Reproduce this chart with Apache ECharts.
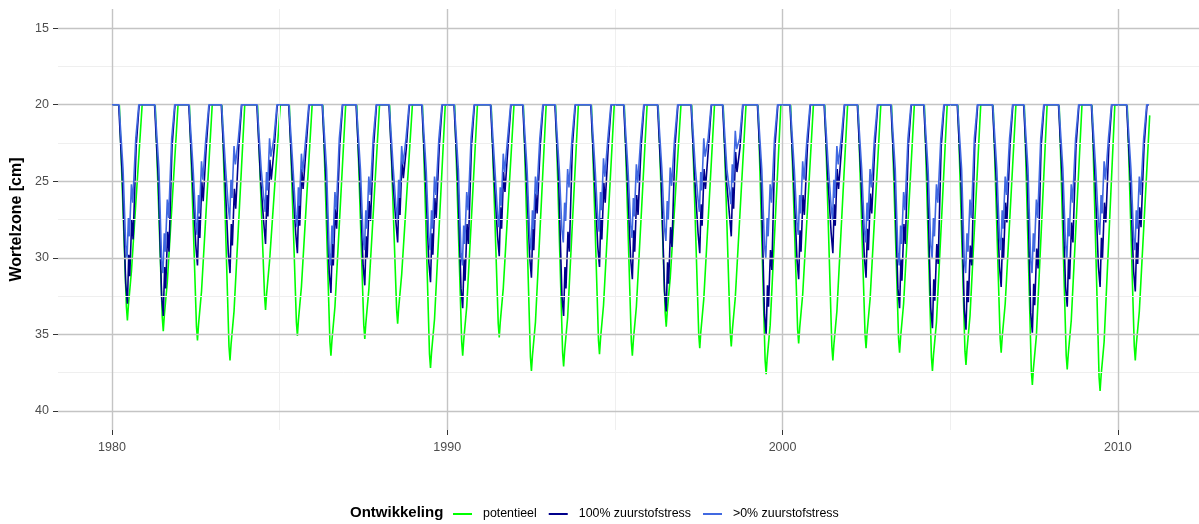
<!DOCTYPE html>
<html>
<head>
<meta charset="utf-8">
<script src="https://cdn.jsdelivr.net/npm/echarts@6/dist/echarts.min.js"></script>
<style>
  html, body { margin: 0; padding: 0; background: #fff; }
  #chart { width: 1199px; height: 524px; }
</style>
</head>
<body>
<div id="chart"></div>
<script>
// root zone depth [cm] per series, as [decimal year, depth]
const potentieel = [
  [1980.00,20],
  [1980.22,20],[1980.43,33.2],[1980.46,34.1],[1980.49,33.1],[1980.58,30.9],[1980.90,20],
  [1981.29,20],[1981.50,33.9],[1981.53,34.8],[1981.56,33.8],[1981.65,31.6],[1981.97,20],
  [1982.31,20],[1982.52,34.5],[1982.55,35.4],[1982.58,34.4],[1982.67,32.2],[1982.99,20],
  [1983.28,20],[1983.49,35.8],[1983.52,36.7],[1983.55,35.7],[1983.64,33.5],[1983.96,20],
  [1984.34,20],[1984.55,32.5],[1984.58,33.4],[1984.61,32.4],[1984.70,30.2],[1985.02,20],
  [1985.29,20],[1985.50,34.2],[1985.53,35.1],[1985.56,34.1],[1985.65,31.9],[1985.97,20],
  [1986.29,20],[1986.50,35.5],[1986.53,36.4],[1986.56,35.4],[1986.65,33.2],[1986.97,20],
  [1987.30,20],[1987.51,34.4],[1987.54,35.3],[1987.57,34.3],[1987.66,32.1],[1987.98,20],
  [1988.28,20],[1988.49,33.4],[1988.52,34.3],[1988.55,33.3],[1988.64,31.1],[1988.96,20],
  [1989.26,20],[1989.47,36.3],[1989.50,37.2],[1989.53,36.2],[1989.62,34.0],[1989.94,20],
  [1990.22,20],[1990.43,35.5],[1990.46,36.4],[1990.49,35.4],[1990.58,33.2],[1990.90,20],
  [1991.31,20],[1991.52,34.3],[1991.55,35.2],[1991.58,34.2],[1991.67,32.0],[1991.99,20],
  [1992.27,20],[1992.48,36.5],[1992.51,37.4],[1992.54,36.4],[1992.63,34.2],[1992.95,20],
  [1993.23,20],[1993.44,36.2],[1993.47,37.1],[1993.50,36.1],[1993.59,33.9],[1993.91,20],
  [1994.30,20],[1994.51,35.4],[1994.54,36.3],[1994.57,35.3],[1994.66,33.1],[1994.98,20],
  [1995.28,20],[1995.49,35.5],[1995.52,36.4],[1995.55,35.4],[1995.64,33.2],[1995.96,20],
  [1996.29,20],[1996.50,33.6],[1996.53,34.5],[1996.56,33.5],[1996.65,31.3],[1996.97,20],
  [1997.29,20],[1997.50,35.0],[1997.53,35.9],[1997.56,34.9],[1997.65,32.7],[1997.97,20],
  [1998.23,20],[1998.44,34.9],[1998.47,35.8],[1998.50,34.8],[1998.59,32.6],[1998.91,20],
  [1999.27,20],[1999.48,36.7],[1999.51,37.6],[1999.54,36.6],[1999.63,34.4],[1999.95,20],
  [2000.24,20],[2000.45,34.7],[2000.48,35.6],[2000.51,34.6],[2000.60,32.4],[2000.92,20],
  [2001.26,20],[2001.47,35.8],[2001.50,36.7],[2001.53,35.7],[2001.62,33.5],[2001.94,20],
  [2002.25,20],[2002.46,35.0],[2002.49,35.9],[2002.52,34.9],[2002.61,32.7],[2002.93,20],
  [2003.25,20],[2003.46,35.3],[2003.49,36.2],[2003.52,35.2],[2003.61,33.0],[2003.93,20],
  [2004.23,20],[2004.44,36.5],[2004.47,37.4],[2004.50,36.4],[2004.59,34.2],[2004.91,20],
  [2005.23,20],[2005.44,36.1],[2005.47,37.0],[2005.50,36.0],[2005.59,33.8],[2005.91,20],
  [2006.28,20],[2006.49,35.3],[2006.52,36.2],[2006.55,35.2],[2006.64,33.0],[2006.96,20],
  [2007.21,20],[2007.42,37.4],[2007.45,38.3],[2007.48,37.3],[2007.57,35.1],[2007.89,20],
  [2008.25,20],[2008.46,36.4],[2008.49,37.3],[2008.52,36.3],[2008.61,34.1],[2008.93,20],
  [2009.23,20],[2009.44,37.8],[2009.47,38.7],[2009.50,37.7],[2009.59,35.5],[2009.91,20],
  [2010.28,20],[2010.49,35.8],[2010.52,36.7],[2010.55,35.7],[2010.64,33.5],[2010.95,20.7]
];

const stress100 = [
  [1980.00,20],
  [1980.20,20],[1980.31,24.8],[1980.41,31.7],[1980.46,33.0],[1980.50,29.8],[1980.53,31.2],[1980.59,27.5],[1980.63,28.8],[1980.72,22.8],[1980.81,20],
  [1981.27,20],[1981.38,24.8],[1981.48,32.5],[1981.53,33.8],[1981.57,30.6],[1981.60,32.0],[1981.66,28.3],[1981.70,29.6],[1981.79,22.8],[1981.88,20],
  [1982.29,20],[1982.40,24.8],[1982.50,29.2],[1982.55,30.5],[1982.59,27.3],[1982.62,28.7],[1982.68,25.0],[1982.72,26.3],[1982.81,22.8],[1982.90,20],
  [1983.26,20],[1983.37,24.8],[1983.47,29.7],[1983.52,31.0],[1983.56,27.8],[1983.59,29.2],[1983.65,25.5],[1983.69,26.8],[1983.78,22.8],[1983.87,20],
  [1984.32,20],[1984.43,24.8],[1984.53,27.8],[1984.58,29.1],[1984.62,25.9],[1984.65,27.3],[1984.71,23.6],[1984.75,24.9],[1984.84,22.8],[1984.93,20],
  [1985.27,20],[1985.38,24.8],[1985.48,28.4],[1985.53,29.7],[1985.57,26.5],[1985.60,27.9],[1985.66,24.2],[1985.70,25.5],[1985.79,22.8],[1985.88,20],
  [1986.27,20],[1986.38,24.8],[1986.48,31.0],[1986.53,32.3],[1986.57,29.1],[1986.60,30.5],[1986.66,26.8],[1986.70,28.1],[1986.79,22.8],[1986.88,20],
  [1987.28,20],[1987.39,24.8],[1987.49,30.5],[1987.54,31.8],[1987.58,28.6],[1987.61,30.0],[1987.67,26.3],[1987.71,27.6],[1987.80,22.8],[1987.89,20],
  [1988.26,20],[1988.37,24.8],[1988.47,27.7],[1988.52,29.0],[1988.56,25.8],[1988.59,27.2],[1988.65,23.5],[1988.69,24.8],[1988.78,22.8],[1988.87,20],
  [1989.24,20],[1989.35,24.8],[1989.45,30.3],[1989.50,31.6],[1989.54,28.4],[1989.57,29.8],[1989.63,26.1],[1989.67,27.4],[1989.76,22.8],[1989.85,20],
  [1990.20,20],[1990.31,24.8],[1990.41,32.0],[1990.46,33.3],[1990.50,30.1],[1990.53,31.5],[1990.59,27.8],[1990.63,29.1],[1990.72,22.8],[1990.81,20],
  [1991.29,20],[1991.40,24.8],[1991.50,28.6],[1991.55,29.9],[1991.59,26.7],[1991.62,28.1],[1991.68,24.4],[1991.72,25.7],[1991.81,22.8],[1991.90,20],
  [1992.25,20],[1992.36,24.8],[1992.46,30.0],[1992.51,31.3],[1992.55,28.1],[1992.58,29.5],[1992.64,25.8],[1992.68,27.1],[1992.77,22.8],[1992.86,20],
  [1993.21,20],[1993.32,24.8],[1993.42,32.5],[1993.47,33.8],[1993.51,30.6],[1993.54,32.0],[1993.60,28.3],[1993.64,29.6],[1993.73,22.8],[1993.82,20],
  [1994.28,20],[1994.39,24.8],[1994.49,29.3],[1994.54,30.6],[1994.58,27.4],[1994.61,28.8],[1994.67,25.1],[1994.71,26.4],[1994.80,22.8],[1994.89,20],
  [1995.26,20],[1995.37,24.8],[1995.47,30.1],[1995.52,31.4],[1995.56,28.2],[1995.59,29.6],[1995.65,25.9],[1995.69,27.2],[1995.78,22.8],[1995.87,20],
  [1996.27,20],[1996.38,24.8],[1996.48,32.2],[1996.53,33.5],[1996.57,30.3],[1996.60,31.7],[1996.66,28.0],[1996.70,29.3],[1996.79,22.8],[1996.88,20],
  [1997.27,20],[1997.38,24.8],[1997.48,28.4],[1997.53,29.7],[1997.57,26.5],[1997.60,27.9],[1997.66,24.2],[1997.70,25.5],[1997.79,22.8],[1997.88,20],
  [1998.21,20],[1998.32,24.8],[1998.42,27.3],[1998.47,28.6],[1998.51,25.4],[1998.54,26.8],[1998.60,23.1],[1998.64,24.4],[1998.73,22.8],[1998.82,20],
  [1999.25,20],[1999.36,24.8],[1999.46,33.7],[1999.51,35.0],[1999.55,31.8],[1999.58,33.2],[1999.64,29.5],[1999.68,30.8],[1999.77,22.8],[1999.86,20],
  [2000.22,20],[2000.33,24.8],[2000.43,30.1],[2000.48,31.4],[2000.52,28.2],[2000.55,29.6],[2000.61,25.9],[2000.65,27.2],[2000.74,22.8],[2000.83,20],
  [2001.24,20],[2001.35,24.8],[2001.45,28.4],[2001.50,29.7],[2001.54,26.5],[2001.57,27.9],[2001.63,24.2],[2001.67,25.5],[2001.76,22.8],[2001.85,20],
  [2002.23,20],[2002.34,24.8],[2002.44,30.0],[2002.49,31.3],[2002.53,28.1],[2002.56,29.5],[2002.62,25.8],[2002.66,27.1],[2002.75,22.8],[2002.84,20],
  [2003.23,20],[2003.34,24.8],[2003.44,32.0],[2003.49,33.3],[2003.53,30.1],[2003.56,31.5],[2003.62,27.8],[2003.66,29.1],[2003.75,22.8],[2003.84,20],
  [2004.21,20],[2004.32,24.8],[2004.42,33.3],[2004.47,34.6],[2004.51,31.4],[2004.54,32.8],[2004.60,29.1],[2004.64,30.4],[2004.73,22.8],[2004.82,20],
  [2005.21,20],[2005.32,24.8],[2005.42,33.4],[2005.47,34.7],[2005.51,31.5],[2005.54,32.9],[2005.60,29.2],[2005.64,30.5],[2005.73,22.8],[2005.82,20],
  [2006.26,20],[2006.37,24.8],[2006.47,30.6],[2006.52,31.9],[2006.56,28.7],[2006.59,30.1],[2006.65,26.4],[2006.69,27.7],[2006.78,22.8],[2006.87,20],
  [2007.19,20],[2007.30,24.8],[2007.40,33.6],[2007.45,34.9],[2007.49,31.7],[2007.52,33.1],[2007.58,29.4],[2007.62,30.7],[2007.71,22.8],[2007.80,20],
  [2008.23,20],[2008.34,24.8],[2008.44,31.9],[2008.49,33.2],[2008.53,30.0],[2008.56,31.4],[2008.62,27.7],[2008.66,29.0],[2008.75,22.8],[2008.84,20],
  [2009.21,20],[2009.32,24.8],[2009.42,30.6],[2009.47,31.9],[2009.51,28.7],[2009.54,30.1],[2009.60,26.4],[2009.64,27.7],[2009.73,22.8],[2009.82,20],
  [2010.26,20],[2010.37,24.8],[2010.47,30.9],[2010.52,32.2],[2010.56,29.0],[2010.59,30.4],[2010.65,26.7],[2010.69,28.0],[2010.78,22.8],[2010.87,20],[2010.93,20]
];

const stress0 = [
  [1980.00,20],
  [1980.21,20],[1980.33,24.2],[1980.41,29.2],[1980.45,30.0],[1980.49,27.4],[1980.52,28.6],[1980.58,25.2],[1980.62,26.4],[1980.71,22.2],[1980.80,20],
  [1981.28,20],[1981.40,24.2],[1981.48,30.2],[1981.52,31.0],[1981.56,28.4],[1981.59,29.6],[1981.65,26.2],[1981.69,27.4],[1981.78,22.2],[1981.87,20],
  [1982.30,20],[1982.42,24.2],[1982.50,27.7],[1982.54,28.5],[1982.58,25.9],[1982.61,27.1],[1982.67,23.7],[1982.71,24.9],[1982.80,22.2],[1982.89,20],
  [1983.27,20],[1983.39,24.2],[1983.47,26.7],[1983.51,27.5],[1983.55,24.9],[1983.58,26.1],[1983.64,22.7],[1983.68,23.9],[1983.77,22.2],[1983.86,20],
  [1984.33,20],[1984.45,24.2],[1984.53,26.2],[1984.57,27.0],[1984.61,24.4],[1984.64,25.6],[1984.70,22.2],[1984.74,23.4],[1984.83,22.2],[1984.92,20],
  [1985.28,20],[1985.40,24.2],[1985.48,27.2],[1985.52,28.0],[1985.56,25.4],[1985.59,26.6],[1985.65,23.2],[1985.69,24.4],[1985.78,22.2],[1985.87,20],
  [1986.28,20],[1986.40,24.2],[1986.48,29.7],[1986.52,30.5],[1986.56,27.9],[1986.59,29.1],[1986.65,25.7],[1986.69,26.9],[1986.78,22.2],[1986.87,20],
  [1987.29,20],[1987.41,24.2],[1987.49,28.7],[1987.53,29.5],[1987.57,26.9],[1987.60,28.1],[1987.66,24.7],[1987.70,25.9],[1987.79,22.2],[1987.88,20],
  [1988.27,20],[1988.39,24.2],[1988.47,26.7],[1988.51,27.5],[1988.55,24.9],[1988.58,26.1],[1988.64,22.7],[1988.68,23.9],[1988.77,22.2],[1988.86,20],
  [1989.25,20],[1989.37,24.2],[1989.45,28.7],[1989.49,29.5],[1989.53,26.9],[1989.56,28.1],[1989.62,24.7],[1989.66,25.9],[1989.75,22.2],[1989.84,20],
  [1990.21,20],[1990.33,24.2],[1990.41,29.7],[1990.45,30.5],[1990.49,27.9],[1990.52,29.1],[1990.58,25.7],[1990.62,26.9],[1990.71,22.2],[1990.80,20],
  [1991.30,20],[1991.42,24.2],[1991.50,27.2],[1991.54,28.0],[1991.58,25.4],[1991.61,26.6],[1991.67,23.2],[1991.71,24.4],[1991.80,22.2],[1991.89,20],
  [1992.26,20],[1992.38,24.2],[1992.46,28.7],[1992.50,29.5],[1992.54,26.9],[1992.57,28.1],[1992.63,24.7],[1992.67,25.9],[1992.76,22.2],[1992.85,20],
  [1993.22,20],[1993.34,24.2],[1993.42,28.2],[1993.46,29.0],[1993.50,26.4],[1993.53,27.6],[1993.59,24.2],[1993.63,25.4],[1993.72,22.2],[1993.81,20],
  [1994.29,20],[1994.41,24.2],[1994.49,27.5],[1994.53,28.3],[1994.57,25.7],[1994.60,26.9],[1994.66,23.5],[1994.70,24.7],[1994.79,22.2],[1994.88,20],
  [1995.27,20],[1995.39,24.2],[1995.47,27.9],[1995.51,28.7],[1995.55,26.1],[1995.58,27.3],[1995.64,23.9],[1995.68,25.1],[1995.77,22.2],[1995.86,20],
  [1996.28,20],[1996.40,24.2],[1996.48,28.1],[1996.52,28.9],[1996.56,26.3],[1996.59,27.5],[1996.65,24.1],[1996.69,25.3],[1996.78,22.2],[1996.87,20],
  [1997.28,20],[1997.40,24.2],[1997.48,26.2],[1997.52,27.0],[1997.56,24.4],[1997.59,25.6],[1997.65,22.2],[1997.69,23.4],[1997.78,22.2],[1997.87,20],
  [1998.22,20],[1998.34,24.2],[1998.42,25.7],[1998.46,26.5],[1998.50,23.9],[1998.53,25.1],[1998.59,21.7],[1998.63,22.9],[1998.72,22.2],[1998.81,20],
  [1999.26,20],[1999.38,24.2],[1999.46,29.2],[1999.50,30.0],[1999.54,27.4],[1999.57,28.6],[1999.63,25.2],[1999.67,26.4],[1999.76,22.2],[1999.85,20],
  [2000.23,20],[2000.35,24.2],[2000.43,27.7],[2000.47,28.5],[2000.51,25.9],[2000.54,27.1],[2000.60,23.7],[2000.64,24.9],[2000.73,22.2],[2000.82,20],
  [2001.25,20],[2001.37,24.2],[2001.45,26.7],[2001.49,27.5],[2001.53,24.9],[2001.56,26.1],[2001.62,22.7],[2001.66,23.9],[2001.75,22.2],[2001.84,20],
  [2002.24,20],[2002.36,24.2],[2002.44,28.2],[2002.48,29.0],[2002.52,26.4],[2002.55,27.6],[2002.61,24.2],[2002.65,25.4],[2002.74,22.2],[2002.83,20],
  [2003.24,20],[2003.36,24.2],[2003.44,29.7],[2003.48,30.5],[2003.52,27.9],[2003.55,29.1],[2003.61,25.7],[2003.65,26.9],[2003.74,22.2],[2003.83,20],
  [2004.22,20],[2004.34,24.2],[2004.42,29.2],[2004.46,30.0],[2004.50,27.4],[2004.53,28.6],[2004.59,25.2],[2004.63,26.4],[2004.72,22.2],[2004.81,20],
  [2005.22,20],[2005.34,24.2],[2005.42,30.2],[2005.46,31.0],[2005.50,28.4],[2005.53,29.6],[2005.59,26.2],[2005.63,27.4],[2005.72,22.2],[2005.81,20],
  [2006.27,20],[2006.39,24.2],[2006.47,28.7],[2006.51,29.5],[2006.55,26.9],[2006.58,28.1],[2006.64,24.7],[2006.68,25.9],[2006.77,22.2],[2006.86,20],
  [2007.20,20],[2007.32,24.2],[2007.40,30.2],[2007.44,31.0],[2007.48,28.4],[2007.51,29.6],[2007.57,26.2],[2007.61,27.4],[2007.70,22.2],[2007.79,20],
  [2008.24,20],[2008.36,24.2],[2008.44,29.2],[2008.48,30.0],[2008.52,27.4],[2008.55,28.6],[2008.61,25.2],[2008.65,26.4],[2008.74,22.2],[2008.83,20],
  [2009.22,20],[2009.34,24.2],[2009.42,27.7],[2009.46,28.5],[2009.50,25.9],[2009.53,27.1],[2009.59,23.7],[2009.63,24.9],[2009.72,22.2],[2009.81,20],
  [2010.27,20],[2010.39,24.2],[2010.47,28.7],[2010.51,29.5],[2010.55,26.9],[2010.58,28.1],[2010.64,24.7],[2010.68,25.9],[2010.77,22.2],[2010.86,20],[2010.93,20]
];

const xTicks = [1980, 1990, 2000, 2010];
const xMinorTicks = [1985, 1995, 2005];
const yTicks = [15, 20, 25, 30, 35, 40];
const yMinorTicks = [17.5, 22.5, 27.5, 32.5, 37.5];

const seriesNames = ['potentieel', '100% zuurstofstress', '>0% zuurstofstress'];
const colors = ['#00ff00', '#00008b', '#4169e1'];
const font = 'Liberation Sans, Arial, sans-serif';

const chart = echarts.init(document.getElementById('chart'));

const majorStyle = { color: '#c4c4c4', width: 1.4, type: 'solid' };
const minorStyle = { color: '#efefef', width: 1, type: 'solid' };
const gridLines = [
  ...yMinorTicks.map(v => ({ yAxis: v, lineStyle: minorStyle })),
  ...xMinorTicks.map(v => ({ xAxis: v, lineStyle: minorStyle })),
  ...yTicks.map(v => ({ yAxis: v, lineStyle: majorStyle })),
  ...xTicks.map(v => ({ xAxis: v, lineStyle: majorStyle })),
]

const lineSeries = [potentieel, stress100, stress0].map((d, i) => ({
  name: seriesNames[i],
  type: 'line',
  data: d,
  symbol: 'none',
  z: 3 + i,
  lineStyle: { color: colors[i], width: 1.6 },
  itemStyle: { color: colors[i] },
}))

chart.setOption({
  animation: false,
  textStyle: { fontFamily: font },
  grid: { left: 58, right: 0, top: 9, bottom: 94 },
  xAxis: {
    type: 'value', min: 1978.39, max: 2012.42,
    axisLine: { show: false },
    splitLine: { show: false },
    axisTick: { show: true, length: 5, lineStyle: { color: '#333' }, customValues: xTicks },
    axisLabel: { color: '#4d4d4d', fontSize: 12.5, margin: 11, customValues: xTicks, formatter: v => String(v) },
  },
  yAxis: {
    type: 'value', inverse: true, min: 13.75, max: 41.25,
    name: 'Wortelzone [cm]', nameLocation: 'middle', nameGap: 27,
    nameTextStyle: { color: '#000', fontSize: 16, fontWeight: 'bold' },
    axisLine: { show: false },
    splitLine: { show: false },
    axisTick: { show: true, length: 5, lineStyle: { color: '#333' }, customValues: yTicks },
    axisLabel: { color: '#4d4d4d', fontSize: 12.5, margin: 9, customValues: yTicks },
  },
  legend: {
    left: 448, top: 503,
    itemWidth: 19, itemHeight: 2, itemGap: 12,
    icon: 'rect',
    textStyle: { color: '#000', fontSize: 12.4, padding: [0, 0, 0, 6] },
    data: seriesNames,
  },
  graphic: [{
    type: 'text', left: 350, top: 505,
    style: { text: 'Ontwikkeling', fontSize: 15, fontWeight: 'bold', fill: '#000', fontFamily: font },
  }],
  series: [
    {
      type: 'line', data: [], silent: true, z: 1,
      markLine: { silent: true, symbol: ['none', 'none'], label: { show: false }, data: gridLines },
    },
    ...lineSeries,
  ],
})
</script>
</body>
</html>
